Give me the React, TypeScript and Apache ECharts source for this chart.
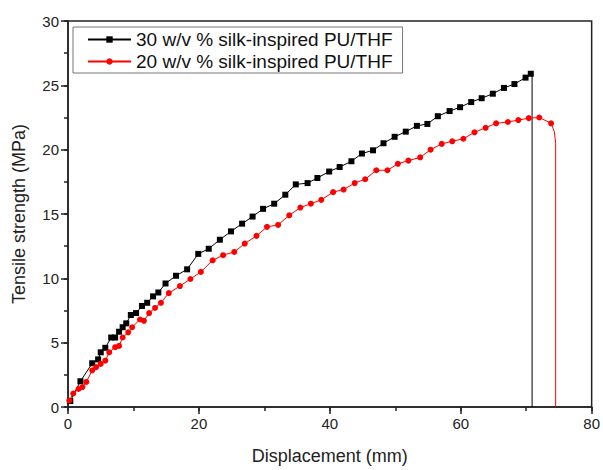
import React, { useEffect, useRef } from "react";
import * as echarts from "echarts";

const blackX = [0, 0.35, 1.9, 3.7, 4.6, 5.0, 5.7, 6.6, 7.2, 7.8, 8.35, 8.9, 9.6, 10.4, 11.3, 12.1, 13.0, 13.8, 14.9, 16.5, 18.2, 19.9, 21.5, 23.2, 24.9, 26.6, 28.2, 29.8, 31.5, 33.2, 34.8, 36.6, 38.1, 39.9, 41.5, 43.3, 44.9, 46.6, 48.2, 49.9, 51.6, 53.3, 54.9, 56.5, 58.3, 59.9, 61.6, 63.2, 64.9, 66.6, 68.2, 69.9, 70.7, 70.9, 70.9];
const blackY = [0.3, 0.46, 2.0, 3.4, 3.7, 4.25, 4.6, 5.4, 5.4, 5.85, 6.2, 6.5, 7.15, 7.3, 7.85, 8.1, 8.6, 8.9, 9.6, 10.2, 10.7, 11.9, 12.3, 13.0, 13.65, 14.25, 14.8, 15.4, 15.8, 16.5, 17.3, 17.4, 17.8, 18.3, 18.65, 19.1, 19.7, 19.95, 20.5, 21.0, 21.4, 21.85, 22.0, 22.6, 23.0, 23.3, 23.7, 24.0, 24.35, 24.8, 25.1, 25.6, 25.9, 25.9, 0];
const blackNoMarker = [0, 53, 54];

const redX = [0, 0.2, 0.8, 1.6, 2.2, 2.8, 3.7, 4.3, 5.0, 5.7, 6.3, 7.2, 7.8, 8.35, 9.2, 9.8, 11.0, 11.6, 12.4, 13.3, 14.2, 15.4, 17.1, 18.7, 20.3, 22.1, 23.7, 25.4, 27.0, 28.8, 30.4, 32.1, 33.8, 35.5, 37.1, 38.7, 40.5, 42.1, 43.8, 45.4, 47.1, 48.8, 50.4, 52.0, 53.8, 55.4, 57.1, 58.7, 60.4, 62.1, 63.8, 65.4, 67.2, 68.8, 70.4, 72.0, 73.8, 74.3, 74.5, 74.5];
const redY = [0.3, 0.5, 1.05, 1.4, 1.55, 1.95, 2.85, 3.1, 3.35, 3.6, 4.25, 4.65, 4.75, 5.4, 5.8, 6.2, 6.8, 6.7, 7.3, 7.7, 8.1, 8.85, 9.4, 9.95, 10.5, 11.4, 11.8, 12.05, 12.7, 13.3, 14.0, 14.15, 14.9, 15.5, 15.8, 16.1, 16.7, 16.9, 17.4, 17.7, 18.4, 18.4, 18.9, 19.15, 19.4, 20.0, 20.45, 20.65, 20.85, 21.35, 21.7, 22.05, 22.15, 22.3, 22.45, 22.5, 22.05, 21.4, 20.5, 0];
const redNoMarker = [0, 57, 58, 59];

const seriesNames = ["30 w/v % silk-inspired PU/THF", "20 w/v % silk-inspired PU/THF"];

function build(xs: number[], ys: number[], noMarker: number[]) {
  return xs.map((x, i) =>
    noMarker.includes(i) ? { value: [x, ys[i]], symbol: "none" } : { value: [x, ys[i]] }
  );
}

export default function App() {
  const ref = useRef<HTMLDivElement>(null);
  useEffect(() => {
    if (!ref.current) return;
    const chart = echarts.init(ref.current, undefined, { renderer: "svg" });
    const font = "'Liberation Sans', Arial, sans-serif";
    const tickStyle = { color: "#222", width: 1.5 };
    const minorAxis = {
      type: "value",
      axisLine: { show: false },
      axisTick: { show: true, inside: false, length: 4, lineStyle: tickStyle },
      axisLabel: { show: false },
      splitLine: { show: false },
    };
    chart.setOption({
      animation: false,
      backgroundColor: "#fff",
      grid: {
        left: 68,
        right: 8,
        top: 21,
        bottom: 58,
        show: true,
        borderColor: "#222",
        borderWidth: 1.5,
        backgroundColor: "transparent",
      },
      legend: {
        left: 73,
        top: 27,
        orient: "vertical",
        borderColor: "#777",
        borderWidth: 1,
        padding: [3, 10, 2, 14],
        itemGap: 3,
        itemWidth: 43,
        itemHeight: 8,
        textStyle: { fontSize: 19, color: "#111", fontFamily: font },
        data: seriesNames,
      },
      xAxis: [
        {
          type: "value",
          min: 0,
          max: 80,
          interval: 20,
          name: "Displacement (mm)",
          nameLocation: "middle",
          nameGap: 40,
          nameTextStyle: { fontSize: 18, color: "#222", fontFamily: font },
          axisLine: { show: true, lineStyle: tickStyle },
          axisTick: { show: true, inside: false, length: 7, lineStyle: tickStyle },
          splitLine: { show: false },
          axisLabel: { fontSize: 15, color: "#222", fontFamily: font, margin: 9 },
        },
        { ...minorAxis, min: 0, max: 80, interval: 10, position: "bottom" },
      ],
      yAxis: [
        {
          type: "value",
          min: 0,
          max: 30,
          interval: 5,
          name: "Tensile strength (MPa)",
          nameLocation: "middle",
          nameGap: 40,
          nameTextStyle: { fontSize: 18, color: "#222", fontFamily: font },
          axisLine: { show: true, lineStyle: tickStyle },
          axisTick: { show: true, inside: false, length: 7, lineStyle: tickStyle },
          splitLine: { show: false },
          axisLabel: { fontSize: 15, color: "#222", fontFamily: font, margin: 9 },
        },
        { ...minorAxis, min: 0, max: 30, interval: 2.5, position: "left" },
      ],
      series: [
        {
          name: seriesNames[0],
          type: "line",
          data: build(blackX, blackY, blackNoMarker),
          symbol: "rect",
          symbolSize: 6,
          showAllSymbol: true,
          itemStyle: { color: "#000" },
          lineStyle: { color: "#000", width: 1 },
        },
        {
          name: seriesNames[1],
          type: "line",
          data: build(redX, redY, redNoMarker),
          symbol: "circle",
          symbolSize: 6,
          showAllSymbol: true,
          itemStyle: { color: "#ff0000" },
          lineStyle: { color: "#ff0000", width: 1 },
        },
      ],
    });
    return () => chart.dispose();
  }, []);
  return (
    <div
      ref={ref}
      style={{ width: 603, height: 470, position: "absolute", left: 0, top: 0 }}
    />
  );
}
